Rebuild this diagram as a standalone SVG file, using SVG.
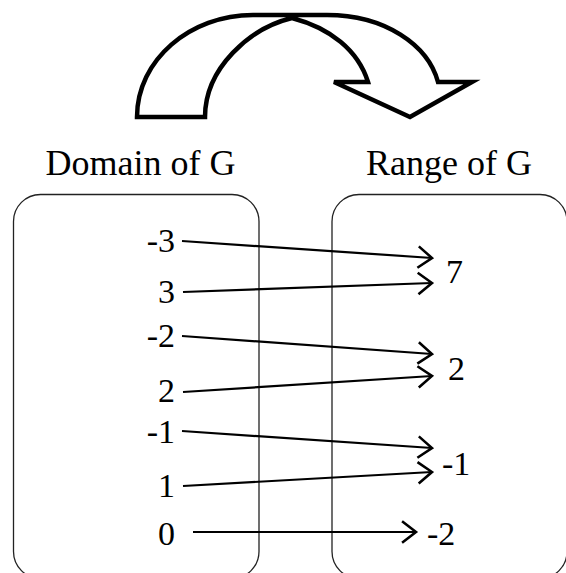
<svg xmlns="http://www.w3.org/2000/svg" width="566" height="573" viewBox="0 0 566 573">
<defs>
<style>
.lbl{font-family:"Liberation Serif","Times New Roman",serif;font-size:36px;fill:#000}
.num{font-family:"Liberation Serif","Times New Roman",serif;font-size:34px;fill:#000}
.box{fill:none;stroke:#222;stroke-width:1.3}
.conn{fill:none;stroke:#000;stroke-width:2.2}
</style>
<marker id="chev" markerUnits="userSpaceOnUse" markerWidth="30" markerHeight="30" viewBox="-16 -14 20 28" refX="0" refY="0" orient="auto">
<path d="M -13 -10 L 0 0 L -13 10" fill="none" stroke="#000" stroke-width="2.4"/>
</marker>
</defs>
<rect width="566" height="573" fill="#fff"/>
<g id="bigArrow">
<path d="M 137 117 C 137 60 190 15 253 15 L 327 15 C 385 15 428 45 438 82 L 472 82 L 410 117 L 334 82 L 368 82 C 358 50 330 28 292 18 C 250 28 205 68 205 117 Z" fill="#fff" stroke="#000" stroke-width="4.5" stroke-linejoin="miter"/>
</g>
<g id="domain">
<text class="lbl" x="140.5" y="175" text-anchor="middle">Domain of G</text>
<rect class="box" x="13.5" y="194.5" width="245.5" height="384" rx="27" ry="27"/>
</g>
<g id="range">
<text class="lbl" x="449" y="175" text-anchor="middle">Range of G</text>
<rect class="box" x="332" y="194.5" width="235" height="384" rx="27" ry="27"/>
</g>
<g id="domainValues">
<text class="num" x="175" y="252" text-anchor="end">-3</text>
<text class="num" x="175" y="303" text-anchor="end">3</text>
<text class="num" x="175" y="347" text-anchor="end">-2</text>
<text class="num" x="175" y="402" text-anchor="end">2</text>
<text class="num" x="175" y="443" text-anchor="end">-1</text>
<text class="num" x="175" y="497" text-anchor="end">1</text>
<text class="num" x="175" y="545" text-anchor="end">0</text>
</g>
<g id="rangeValues">
<text class="num" x="446" y="283">7</text>
<text class="num" x="448" y="380">2</text>
<text class="num" x="442" y="475">-1</text>
<text class="num" x="427" y="545">-2</text>
</g>
<g id="connectors">
<line class="conn" x1="182" y1="241" x2="432" y2="258" marker-end="url(#chev)"/>
<line class="conn" x1="183" y1="292" x2="432" y2="283" marker-end="url(#chev)"/>
<line class="conn" x1="182" y1="336" x2="432" y2="354" marker-end="url(#chev)"/>
<line class="conn" x1="183" y1="392" x2="432" y2="376" marker-end="url(#chev)"/>
<line class="conn" x1="182" y1="431" x2="432" y2="448" marker-end="url(#chev)"/>
<line class="conn" x1="183" y1="486" x2="432" y2="472" marker-end="url(#chev)"/>
<line class="conn" x1="193" y1="532" x2="416" y2="532" marker-end="url(#chev)"/>
</g>
</svg>
